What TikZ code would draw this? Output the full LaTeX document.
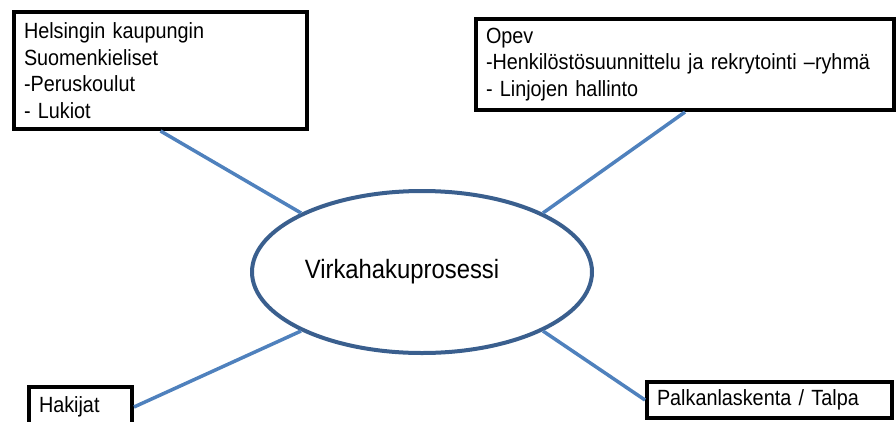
\documentclass[tikz,border=0pt]{standalone}
\usepackage{fontspec}
\setmainfont{Liberation Sans}[FakeStretch=0.9]
\usetikzlibrary{shapes.geometric}
\definecolor{linkblue}{HTML}{4F81BD}
\definecolor{ovalblue}{HTML}{3A5F8E}
\begin{document}
\begin{tikzpicture}[x=1pt,y=-1pt,
  box/.style={draw=black,line width=4pt,anchor=north west,align=left,
    inner xsep=10pt,inner ysep=0pt,font=\fontsize{22}{26.5}\selectfont},
  oval/.style={ellipse,draw=ovalblue,line width=4pt,inner sep=0pt,
    minimum width=340pt,minimum height=162pt,font=\fontsize{26.5}{30}\selectfont},
  link/.style={draw=linkblue,line width=3.5pt}]
\useasboundingbox (0,0) rectangle (896,421);
\node[box,text width=273pt,minimum height=117pt] (hel) at (12,10)
  {Helsingin kaupungin\\Suomenkieliset\\-Peruskoulut\\- Lukiot};
\node[box,text width=398pt,minimum height=91pt] (opev) at (474,17)
  {Opev\\-Henkilöstösuunnittelu ja rekrytointi –ryhmä\\- Linjojen hallinto};
\node[box,text width=83pt,minimum height=40pt] (hak) at (27,385) {Hakijat};
\node[box,text width=225pt,minimum height=36pt] (pal) at (645,380) {Palkanlaskenta / Talpa};
\node[oval] (ell) at (422,272) {Virkahakuprosessi\kern40pt};
\draw[link] (hel.south) -- (ell.154);
\draw[link] (opev.south) -- (ell.26);
\draw[link] (hak.east) -- (ell.206);
\draw[link] (pal.west) -- (ell.334);
\end{tikzpicture}
\end{document}
